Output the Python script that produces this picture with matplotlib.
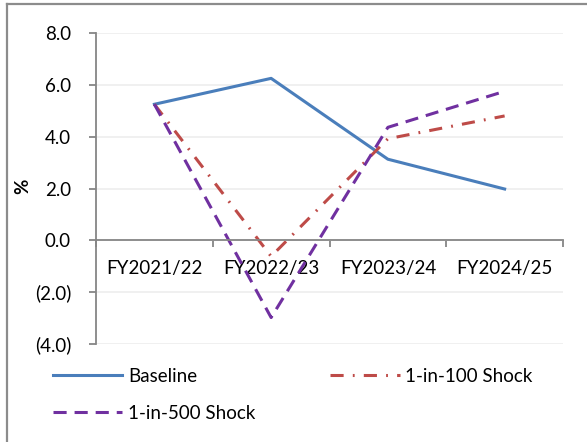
import matplotlib.pyplot as plt
from matplotlib.lines import Line2D

# Growth projections by fiscal year (%)
anos = ['FY2021/22', 'FY2022/23', 'FY2023/24', 'FY2024/25']
baseline = [5.25, 6.25, 3.13, 1.98]
choque_100 = [5.25, -0.62, 3.92, 4.8]
choque_500 = [5.25, -2.98, 4.36, 5.75]

y_ticks = [-4.0, -2.0, 0.0, 2.0, 4.0, 6.0, 8.0]
y_labels = ['(4.0)', '(2.0)', '0.0', '2.0', '4.0', '6.0', '8.0']

plt.rcParams['font.family'] = ['Lato', 'DejaVu Sans']
plt.rcParams['font.size'] = 13.5

cinza = '#868686'
fig = plt.figure(figsize=(5.87, 4.42), dpi=100)
ax = fig.add_axes([96 / 587, 1 - 344 / 442, 467 / 587, 311 / 442])

x = range(len(anos))
l1, = ax.plot(x, baseline, color='#4a7ebb', lw=2.2, label='Baseline')
l2, = ax.plot(x, choque_100, color='#be4b48', lw=2.2,
              linestyle=(0, (4.3, 3.0, 0.6, 3.0)), label='1-in-100 Shock')
l3, = ax.plot(x, choque_500, color='#7030a0', lw=2.2,
              linestyle=(0, (4.3, 2.6)), label='1-in-500 Shock')

ax.set_xlim(-0.5, len(anos) - 0.5)
ax.set_ylim(-4, 8)

# eixo x passando pelo zero, com marcas entre as categorias
ax.spines['bottom'].set_position(('data', 0))
ax.spines['top'].set_visible(False)
ax.spines['right'].set_visible(False)
for s in ['bottom', 'left']:
    ax.spines[s].set_color(cinza)
    ax.spines[s].set_linewidth(1.3)

ax.set_xticks(list(x))
ax.set_xticklabels(anos)
ax.set_xticks([i - 0.5 for i in range(len(anos) + 1)], minor=True)
ax.tick_params(axis='x', which='major', length=0, pad=14)
ax.tick_params(axis='x', which='minor', length=5, width=1.3, color=cinza)

ax.set_yticks(y_ticks)
ax.set_yticklabels(y_labels)
ax.tick_params(axis='y', length=5, width=1.3, color=cinza, pad=13)

ax.yaxis.grid(True, color='#efefef', lw=1.3)
ax.set_axisbelow(True)

fig.text(23 / 587, 1 - 186 / 442, '%', rotation=90, ha='center', va='center',
         fontsize=13.5, fontweight='bold')

fig.legend([l1, l3, l2], ['Baseline', '1-in-500 Shock', '1-in-100 Shock'],
           ncol=2, loc='upper left', bbox_to_anchor=(36 / 587, 1 - 351 / 442),
           frameon=False, handlelength=3.7, handletextpad=0.3,
           columnspacing=4.0, labelspacing=1.07)

# moldura do gráfico (topo e lado esquerdo)
fig.add_artist(Line2D([6.5 / 587, 6.5 / 587], [0, 1 - 3.5 / 442], color='#8c8c8c', lw=1.6))
fig.add_artist(Line2D([6.5 / 587, 1], [1 - 3.5 / 442, 1 - 3.5 / 442], color='#8c8c8c', lw=1.6))

plt.savefig('out.png', dpi=100)
